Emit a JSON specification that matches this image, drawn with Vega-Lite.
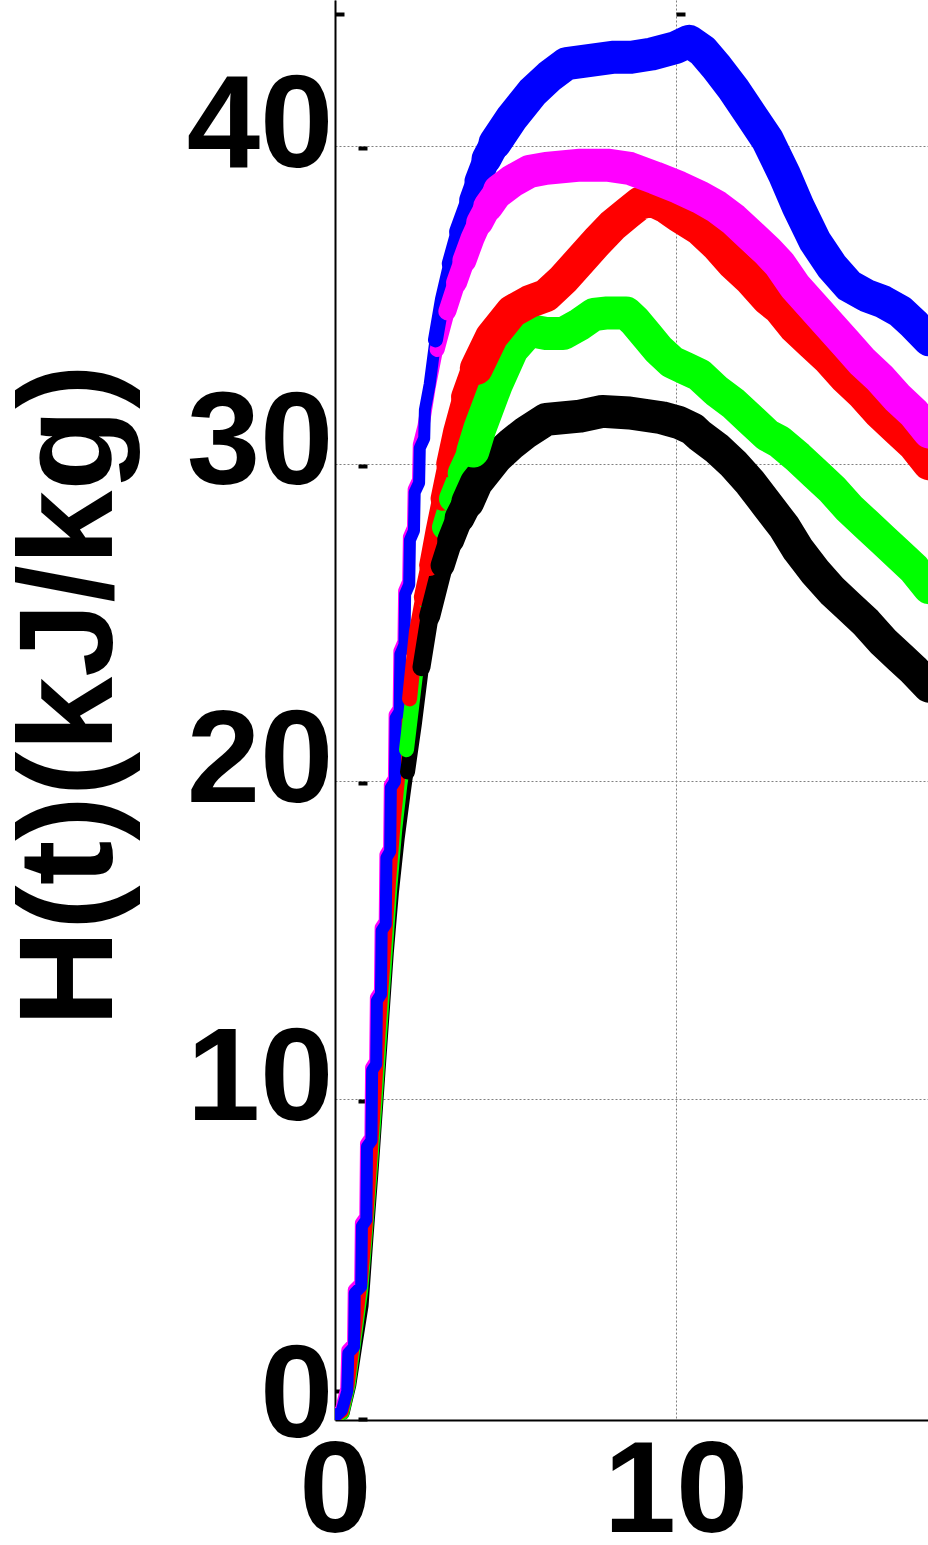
{
  "$schema": "https://vega.github.io/schema/vega-lite/v6.json",
  "width": 593,
  "height": 1420,
  "autosize": {"type": "none"},
  "padding": {"left": 335, "top": 0, "right": 0, "bottom": 125},
  "background": "white",
  "config": {"view": {"stroke": null}, "font": "Liberation Sans"},
  "data": {"values": [
    {"s":"black","t":0,"H":0},{"s":"black","t":0.25,"H":0.1},{"s":"black","t":0.45,"H":1.0},{"s":"black","t":0.62,"H":2.2},{"s":"black","t":0.81,"H":3.5},{"s":"black","t":0.95,"H":5.6},{"s":"black","t":1.1,"H":7.7},{"s":"black","t":1.25,"H":10.0},{"s":"black","t":1.4,"H":12.3},{"s":"black","t":1.55,"H":14.6},{"s":"black","t":1.7,"H":16.5},{"s":"black","t":1.87,"H":18.2},{"s":"black","t":2.04,"H":19.6},{"s":"black","t":2.13,"H":20.3},{"s":"black","t":2.33,"H":21.8},{"s":"black","t":2.54,"H":23.6},{"s":"black","t":2.78,"H":25.2},{"s":"black","t":3.16,"H":26.8},{"s":"black","t":3.4,"H":27.6},{"s":"black","t":3.66,"H":28.3},{"s":"black","t":3.9,"H":28.8},{"s":"black","t":4.15,"H":29.4},{"s":"black","t":4.74,"H":30.2},{"s":"black","t":5.2,"H":30.65},{"s":"black","t":5.62,"H":31.0},{"s":"black","t":6.2,"H":31.4},{"s":"black","t":7.2,"H":31.5},{"s":"black","t":7.85,"H":31.65},{"s":"black","t":8.65,"H":31.6},{"s":"black","t":9.6,"H":31.45},{"s":"black","t":10.1,"H":31.3},{"s":"black","t":10.5,"H":31.1},{"s":"black","t":10.7,"H":30.9},{"s":"black","t":11.2,"H":30.5},{"s":"black","t":11.7,"H":30.0},{"s":"black","t":12.2,"H":29.4},{"s":"black","t":12.7,"H":28.7},{"s":"black","t":13.2,"H":28.0},{"s":"black","t":13.6,"H":27.3},{"s":"black","t":14.1,"H":26.6},{"s":"black","t":14.6,"H":26.0},{"s":"black","t":15.1,"H":25.5},{"s":"black","t":15.6,"H":25.0},{"s":"black","t":16.1,"H":24.4},{"s":"black","t":16.6,"H":23.9},{"s":"black","t":17.0,"H":23.5},{"s":"black","t":17.45,"H":23.0},

    {"s":"green","t":0,"H":0},{"s":"green","t":0.24,"H":0.1},{"s":"green","t":0.43,"H":1.0},{"s":"green","t":0.6,"H":2.4},{"s":"green","t":0.8,"H":4.0},{"s":"green","t":0.95,"H":6.0},{"s":"green","t":1.1,"H":8.1},{"s":"green","t":1.23,"H":10.1},{"s":"green","t":1.37,"H":12.3},{"s":"green","t":1.51,"H":14.5},{"s":"green","t":1.65,"H":16.6},{"s":"green","t":1.8,"H":18.5},{"s":"green","t":1.95,"H":19.9},{"s":"green","t":2.1,"H":21.0},{"s":"green","t":2.39,"H":23.6},{"s":"green","t":2.69,"H":25.7},{"s":"green","t":2.98,"H":27.0},{"s":"green","t":3.2,"H":28.0},{"s":"green","t":3.45,"H":28.9},{"s":"green","t":3.75,"H":29.7},{"s":"green","t":4.05,"H":30.4},{"s":"green","t":4.25,"H":31.1},{"s":"green","t":4.74,"H":32.5},{"s":"green","t":5.2,"H":33.6},{"s":"green","t":5.7,"H":34.2},{"s":"green","t":6.2,"H":34.1},{"s":"green","t":6.7,"H":34.1},{"s":"green","t":7.2,"H":34.4},{"s":"green","t":7.6,"H":34.7},{"s":"green","t":8.0,"H":34.75},{"s":"green","t":8.55,"H":34.75},{"s":"green","t":8.8,"H":34.5},{"s":"green","t":9.15,"H":34.05},{"s":"green","t":9.5,"H":33.6},{"s":"green","t":9.9,"H":33.2},{"s":"green","t":10.3,"H":33.0},{"s":"green","t":10.7,"H":32.8},{"s":"green","t":11.2,"H":32.3},{"s":"green","t":11.7,"H":31.9},{"s":"green","t":12.2,"H":31.4},{"s":"green","t":12.7,"H":30.9},{"s":"green","t":13.05,"H":30.7},{"s":"green","t":13.6,"H":30.2},{"s":"green","t":14.1,"H":29.7},{"s":"green","t":14.6,"H":29.2},{"s":"green","t":15.1,"H":28.6},{"s":"green","t":15.6,"H":28.1},{"s":"green","t":16.1,"H":27.6},{"s":"green","t":16.6,"H":27.1},{"s":"green","t":17.0,"H":26.7},{"s":"green","t":17.45,"H":26.1},

    {"s":"red","t":0,"H":0},{"s":"red","t":0.22,"H":0.15},{"s":"red","t":0.4,"H":1.0},{"s":"red","t":0.58,"H":2.5},{"s":"red","t":0.8,"H":4.4},{"s":"red","t":0.95,"H":6.3},{"s":"red","t":1.08,"H":8.3},{"s":"red","t":1.2,"H":10.3},{"s":"red","t":1.34,"H":12.6},{"s":"red","t":1.48,"H":14.8},{"s":"red","t":1.62,"H":16.9},{"s":"red","t":1.76,"H":18.8},{"s":"red","t":1.9,"H":20.3},{"s":"red","t":2.05,"H":21.5},{"s":"red","t":2.19,"H":22.6},{"s":"red","t":2.39,"H":24.7},{"s":"red","t":2.58,"H":25.8},{"s":"red","t":2.78,"H":26.8},{"s":"red","t":2.97,"H":27.9},{"s":"red","t":3.16,"H":28.9},{"s":"red","t":3.37,"H":30.0},{"s":"red","t":3.57,"H":31.0},{"s":"red","t":3.85,"H":32.1},{"s":"red","t":4.15,"H":33.0},{"s":"red","t":4.6,"H":34.0},{"s":"red","t":5.2,"H":34.8},{"s":"red","t":5.7,"H":35.1},{"s":"red","t":6.2,"H":35.3},{"s":"red","t":6.7,"H":35.8},{"s":"red","t":7.2,"H":36.4},{"s":"red","t":7.7,"H":37.0},{"s":"red","t":8.15,"H":37.5},{"s":"red","t":8.6,"H":37.9},{"s":"red","t":8.95,"H":38.2},{"s":"red","t":9.3,"H":38.3},{"s":"red","t":9.7,"H":38.1},{"s":"red","t":10.1,"H":37.8},{"s":"red","t":10.7,"H":37.4},{"s":"red","t":11.2,"H":36.9},{"s":"red","t":11.7,"H":36.3},{"s":"red","t":12.2,"H":35.8},{"s":"red","t":12.7,"H":35.2},{"s":"red","t":13.05,"H":34.9},{"s":"red","t":13.5,"H":34.3},{"s":"red","t":14.0,"H":33.8},{"s":"red","t":14.5,"H":33.3},{"s":"red","t":15.0,"H":32.7},{"s":"red","t":15.5,"H":32.2},{"s":"red","t":16.0,"H":31.6},{"s":"red","t":16.5,"H":31.1},{"s":"red","t":17.0,"H":30.6},{"s":"red","t":17.45,"H":30.0},

    {"s":"magenta","t":0,"H":0},{"s":"magenta","t":0.18,"H":0.25},{"s":"magenta","t":0.33,"H":0.9},{"s":"magenta","t":0.36,"H":2.1},{"s":"magenta","t":0.53,"H":2.3},{"s":"magenta","t":0.55,"H":4.0},{"s":"magenta","t":0.74,"H":4.2},{"s":"magenta","t":0.76,"H":6.1},{"s":"magenta","t":0.89,"H":6.3},{"s":"magenta","t":0.91,"H":8.6},{"s":"magenta","t":1.04,"H":8.8},{"s":"magenta","t":1.06,"H":11.0},{"s":"magenta","t":1.18,"H":11.2},{"s":"magenta","t":1.2,"H":13.2},{"s":"magenta","t":1.32,"H":13.4},{"s":"magenta","t":1.34,"H":15.4},{"s":"magenta","t":1.46,"H":15.6},{"s":"magenta","t":1.48,"H":17.7},{"s":"magenta","t":1.59,"H":17.9},{"s":"magenta","t":1.61,"H":19.9},{"s":"magenta","t":1.73,"H":20.1},{"s":"magenta","t":1.75,"H":22.1},{"s":"magenta","t":1.87,"H":22.3},{"s":"magenta","t":1.89,"H":24.1},{"s":"magenta","t":2.01,"H":24.4},{"s":"magenta","t":2.03,"H":26.0},{"s":"magenta","t":2.15,"H":26.3},{"s":"magenta","t":2.17,"H":27.7},{"s":"magenta","t":2.29,"H":28.0},{"s":"magenta","t":2.31,"H":29.2},{"s":"magenta","t":2.44,"H":29.5},{"s":"magenta","t":2.46,"H":30.6},{"s":"magenta","t":2.6,"H":31.2},{"s":"magenta","t":2.78,"H":32.4},{"s":"magenta","t":3.0,"H":33.6},{"s":"magenta","t":3.3,"H":34.8},{"s":"magenta","t":3.57,"H":35.7},{"s":"magenta","t":3.8,"H":36.4},{"s":"magenta","t":4.04,"H":37.1},{"s":"magenta","t":4.25,"H":37.6},{"s":"magenta","t":4.5,"H":38.1},{"s":"magenta","t":4.83,"H":38.6},{"s":"magenta","t":5.2,"H":38.9},{"s":"magenta","t":5.7,"H":39.2},{"s":"magenta","t":6.2,"H":39.3},{"s":"magenta","t":7.2,"H":39.4},{"s":"magenta","t":8.0,"H":39.4},{"s":"magenta","t":8.65,"H":39.3},{"s":"magenta","t":9.4,"H":39.0},{"s":"magenta","t":10.1,"H":38.7},{"s":"magenta","t":10.7,"H":38.4},{"s":"magenta","t":11.2,"H":38.1},{"s":"magenta","t":11.7,"H":37.7},{"s":"magenta","t":12.2,"H":37.2},{"s":"magenta","t":12.7,"H":36.7},{"s":"magenta","t":13.05,"H":36.3},{"s":"magenta","t":13.5,"H":35.6},{"s":"magenta","t":14.0,"H":35.0},{"s":"magenta","t":14.5,"H":34.4},{"s":"magenta","t":15.0,"H":33.8},{"s":"magenta","t":15.5,"H":33.2},{"s":"magenta","t":16.0,"H":32.7},{"s":"magenta","t":16.5,"H":32.1},{"s":"magenta","t":17.0,"H":31.6},{"s":"magenta","t":17.45,"H":31.0},

    {"s":"blue","t":0,"H":0},{"s":"blue","t":0.2,"H":0.2},{"s":"blue","t":0.36,"H":0.8},{"s":"blue","t":0.39,"H":2.0},{"s":"blue","t":0.56,"H":2.2},{"s":"blue","t":0.58,"H":3.9},{"s":"blue","t":0.77,"H":4.1},{"s":"blue","t":0.79,"H":6.0},{"s":"blue","t":0.92,"H":6.2},{"s":"blue","t":0.94,"H":8.5},{"s":"blue","t":1.07,"H":8.7},{"s":"blue","t":1.09,"H":10.9},{"s":"blue","t":1.21,"H":11.1},{"s":"blue","t":1.23,"H":13.1},{"s":"blue","t":1.35,"H":13.3},{"s":"blue","t":1.37,"H":15.3},{"s":"blue","t":1.49,"H":15.5},{"s":"blue","t":1.51,"H":17.6},{"s":"blue","t":1.62,"H":17.8},{"s":"blue","t":1.64,"H":19.8},{"s":"blue","t":1.76,"H":20.0},{"s":"blue","t":1.78,"H":22.0},{"s":"blue","t":1.9,"H":22.2},{"s":"blue","t":1.92,"H":24.0},{"s":"blue","t":2.04,"H":24.3},{"s":"blue","t":2.06,"H":25.9},{"s":"blue","t":2.18,"H":26.2},{"s":"blue","t":2.2,"H":27.6},{"s":"blue","t":2.32,"H":27.9},{"s":"blue","t":2.34,"H":29.1},{"s":"blue","t":2.47,"H":29.4},{"s":"blue","t":2.49,"H":30.5},{"s":"blue","t":2.62,"H":30.8},{"s":"blue","t":2.64,"H":31.7},{"s":"blue","t":2.78,"H":32.5},{"s":"blue","t":2.95,"H":33.9},{"s":"blue","t":3.16,"H":35.2},{"s":"blue","t":3.4,"H":36.3},{"s":"blue","t":3.66,"H":37.3},{"s":"blue","t":4.0,"H":38.3},{"s":"blue","t":4.2,"H":38.9},{"s":"blue","t":4.45,"H":39.6},{"s":"blue","t":4.7,"H":40.1},{"s":"blue","t":5.2,"H":40.9},{"s":"blue","t":5.8,"H":41.7},{"s":"blue","t":6.3,"H":42.2},{"s":"blue","t":6.8,"H":42.6},{"s":"blue","t":7.5,"H":42.7},{"s":"blue","t":8.2,"H":42.8},{"s":"blue","t":8.7,"H":42.8},{"s":"blue","t":9.3,"H":42.9},{"s":"blue","t":10.0,"H":43.1},{"s":"blue","t":10.4,"H":43.3},{"s":"blue","t":10.8,"H":43.0},{"s":"blue","t":11.2,"H":42.5},{"s":"blue","t":11.7,"H":41.8},{"s":"blue","t":12.2,"H":41.0},{"s":"blue","t":12.7,"H":40.2},{"s":"blue","t":13.2,"H":39.1},{"s":"blue","t":13.6,"H":38.1},{"s":"blue","t":14.1,"H":37.0},{"s":"blue","t":14.6,"H":36.2},{"s":"blue","t":15.1,"H":35.6},{"s":"blue","t":15.6,"H":35.3},{"s":"blue","t":16.1,"H":35.1},{"s":"blue","t":16.6,"H":34.8},{"s":"blue","t":17.0,"H":34.4},{"s":"blue","t":17.45,"H":33.9}
  ]},
  "encoding": {
    "x": {"field": "t", "type": "quantitative",
          "scale": {"domain": [0, 17.415], "nice": false, "zero": false},
          "axis": {"values": [0, 10], "grid": true, "gridColor": "#808080", "gridDash": [2, 2], "gridWidth": 1,
                   "ticks": false, "domainColor": "black", "domainWidth": 2,
                   "labelFontSize": 130, "labelFont": "Liberation Sans", "labelFontWeight": "bold", "labelColor": "black",
                   "labelPadding": 8, "labelFlush": false, "labelOverlap": false, "labelBaseline": "top", "title": null}},
    "color": {"field": "s", "type": "nominal",
              "scale": {"domain": ["black", "green", "red", "magenta", "blue"], "range": ["#000000", "#00ff00", "#ff0000", "#ff00ff", "#0000ff"]},
              "legend": null}
  },
  "layer": [
    {
      "mark": {"type": "line", "strokeWidth": 12, "strokeJoin": "round", "strokeCap": "round", "clip": true},
      "encoding": {
        "y": {"field": "H", "type": "quantitative",
              "scale": {"domain": [-0.1, 44.6], "nice": false, "zero": false},
              "axis": {"orient": "left", "values": [0, 10, 20, 30, 40], "grid": true, "gridColor": "#808080", "gridDash": [2, 2], "gridWidth": 1,
                       "gridOpacity": {"condition": {"test": "datum.value === 0", "value": 0}, "value": 1},
                       "ticks": false, "domainColor": "black", "domainWidth": 2,
                       "labelFontSize": 132, "labelFont": "Liberation Sans", "labelFontWeight": "bold", "labelColor": "black",
                       "labelPadding": 2, "labelOffset": -20, "labelAlign": "right", "labelBaseline": "middle",
                       "labelFlush": false, "labelOverlap": false,
                       "title": "H(t)(kJ/kg)", "titleFontSize": 134, "titleFont": "Liberation Sans", "titleFontWeight": "bold",
                       "titleColor": "black", "titleX": -224, "titleY": 695, "titleAngle": -90, "titleAlign": "center", "titleBaseline": "alphabetic"}}
      }
    },
    {
      "transform": [{"filter": "(datum.s == 'blue' || datum.s == 'magenta') ? datum.t >= 2.9 : datum.t >= 2.1"}],
      "mark": {"type": "line", "strokeWidth": 15, "strokeJoin": "round", "strokeCap": "round", "clip": true},
      "encoding": {
        "y": {"field": "H", "type": "quantitative",
              "axis": {"orient": "left", "offset": -23, "values": [0, 10, 20, 30, 40], "ticks": true, "tickSize": -9, "tickWidth": 4,
                       "tickColor": "black", "tickOffset": 2, "labels": false, "domain": false, "grid": false, "title": null}}
      }
    },
    {
      "transform": [{"filter": "(datum.s == 'blue' || datum.s == 'magenta') ? datum.t >= 3.2 : datum.t >= 2.4"}],
      "mark": {"type": "line", "strokeWidth": 18, "strokeJoin": "round", "strokeCap": "round", "clip": true},
      "encoding": {
        "y": {"field": "H", "type": "quantitative",
              "axis": {"orient": "left", "offset": 0, "values": [0.8, 44.15], "ticks": true, "tickSize": -9, "tickWidth": 4,
                       "tickColor": "black", "labels": false, "domain": false, "grid": false, "title": null}}
      }
    },
    {
      "transform": [{"filter": "(datum.s == 'blue' || datum.s == 'magenta') ? datum.t >= 3.5 : datum.t >= 2.7"}],
      "mark": {"type": "line", "strokeWidth": 21, "strokeJoin": "round", "strokeCap": "round", "clip": true},
      "encoding": {
        "y": {"field": "H", "type": "quantitative",
              "axis": {"orient": "left", "offset": -341, "values": [44.15], "ticks": true, "tickSize": -9, "tickWidth": 4,
                       "tickColor": "black", "labels": false, "domain": false, "grid": false, "title": null}}
      }
    },
    {
      "transform": [{"filter": "(datum.s == 'blue' || datum.s == 'magenta') ? datum.t >= 3.8 : datum.t >= 3.0"}],
      "mark": {"type": "line", "strokeWidth": 24, "strokeJoin": "round", "strokeCap": "round", "clip": true},
      "encoding": {"y": {"field": "H", "type": "quantitative", "axis": null}}
    },
    {
      "transform": [{"filter": "(datum.s == 'blue' || datum.s == 'magenta') ? datum.t >= 4.1 : datum.t >= 3.3"}],
      "mark": {"type": "line", "strokeWidth": 27, "strokeJoin": "round", "strokeCap": "round", "clip": true},
      "encoding": {"y": {"field": "H", "type": "quantitative", "axis": null}}
    },
    {
      "transform": [{"filter": "(datum.s == 'blue' || datum.s == 'magenta') ? datum.t >= 4.4 : datum.t >= 3.6"}],
      "mark": {"type": "line", "strokeWidth": 30, "strokeJoin": "round", "strokeCap": "round", "clip": true},
      "encoding": {"y": {"field": "H", "type": "quantitative", "axis": null}}
    },
    {
      "transform": [{"filter": "(datum.s == 'blue' || datum.s == 'magenta') ? datum.t >= 4.7 : datum.t >= 3.9"}],
      "mark": {"type": "line", "strokeWidth": 33, "strokeJoin": "round", "strokeCap": "round", "clip": true},
      "encoding": {"y": {"field": "H", "type": "quantitative", "axis": null}}
    }
  ],
  "resolve": {"axis": {"y": "independent"}}
}
